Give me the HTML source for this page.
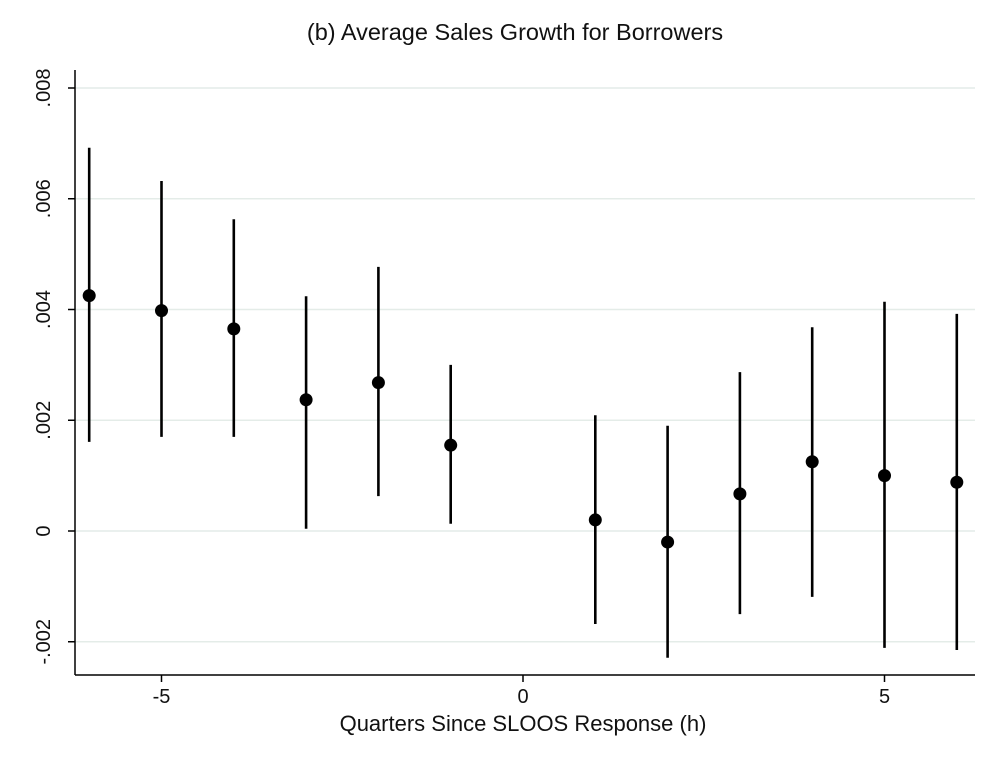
<!DOCTYPE html>
<html><head><meta charset="utf-8"><style>
body{margin:0;background:#fff;}
svg text{font-family:"Liberation Sans",sans-serif;fill:#111;}
</style></head><body>
<svg id="chart" width="1000" height="773">
<text x="515" y="40" font-size="23.5" text-anchor="middle">(b) Average Sales Growth for Borrowers</text>
<text x="523" y="731" font-size="22" text-anchor="middle">Quarters Since SLOOS Response (h)</text>
<g id="grid"></g><g id="axes"></g><g id="marks"></g>
</svg>
<script>
const xs=[-6,-5,-4,-3,-2,-1,1,2,3,4,5,6];
const est=[4.25,3.98,3.65,2.37,2.68,1.55,0.2,-0.2,0.67,1.25,1.0,0.88];
const hi=[6.92,6.32,5.63,4.24,4.77,3.0,2.09,1.9,2.87,3.68,4.14,3.92];
const lo=[1.61,1.70,1.70,0.04,0.63,0.13,-1.68,-2.29,-1.5,-1.19,-2.11,-2.15];
const yTicks=[-2,0,2,4,6,8];
const yLabels=["-.002","0",".002",".004",".006",".008"];
const xTicks=[-5,0,5];
const xLabels=["-5","0","5"];
const ns="http://www.w3.org/2000/svg";
const X=v=>523+v*72.3;
const Y=v=>531-v*55.375;
function mk(t,a,p){const e=document.createElementNS(ns,t);for(const k in a)e.setAttribute(k,a[k]);p.appendChild(e);return e;}
const g=document.getElementById('grid'),ax=document.getElementById('axes'),m=document.getElementById('marks');
yTicks.forEach((t,i)=>{
 const l=mk('line',{x1:75,x2:975,y1:Y(t),y2:Y(t),stroke:'#e4ece8','stroke-width':1.5},g);
 
 
 mk('line',{x1:68,x2:75,y1:Y(t),y2:Y(t),stroke:'#000','stroke-width':1.5},ax);
 const tx=mk('text',{x:50,y:Y(t),'font-size':20,'text-anchor':'middle',transform:`rotate(-90 50 ${Y(t)})`},ax);
 tx.textContent=yLabels[i];
 
 
});
xTicks.forEach((t,i)=>{
 mk('line',{x1:X(t),x2:X(t),y1:675,y2:682,stroke:'#000','stroke-width':1.5},ax);
 const tx=mk('text',{x:X(t),y:703,'font-size':20,'text-anchor':'middle'},ax);
 tx.textContent=xLabels[i];
 
 
});
const ya=mk('line',{x1:75,x2:75,y1:70,y2:675,stroke:'#000','stroke-width':1.5},ax);


const xa=mk('line',{x1:75,x2:975,y1:675,y2:675,stroke:'#000','stroke-width':1.5},ax);


xs.forEach((x,i)=>{
 const l=mk('line',{x1:X(x),x2:X(x),y1:Y(hi[i]),y2:Y(lo[i]),stroke:'#000','stroke-width':2.6},m);
 
 
 const c=mk('circle',{cx:X(x),cy:Y(est[i]),r:6.5,fill:'#000'},m);
 
 
});
</script>
</body></html>
